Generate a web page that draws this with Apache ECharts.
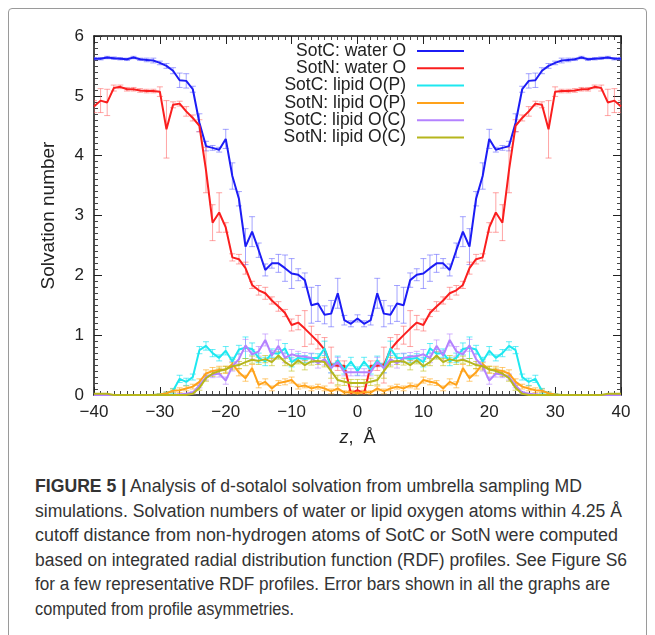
<!DOCTYPE html>
<html>
<head>
<meta charset="utf-8">
<script src="https://cdn.jsdelivr.net/npm/echarts@6/dist/echarts.min.js"></script>
<style>
  html, body { margin: 0; padding: 0; background: #fff; }
  #frame { position: absolute; left: 8px; top: 8px; width: 639px; height: 700px;
           border: 1.5px solid #9a9a9a; border-radius: 4px; box-sizing: border-box; }
  #chart { position: absolute; left: 0; top: 0; width: 655px; height: 465px; }
  #caption { position: absolute; left: 35px; top: 474px; color: #333;
             font-family: "Liberation Sans", Arial, sans-serif; font-size: 18px; line-height: 24.6px; }
  #caption div { white-space: nowrap; width: max-content; transform-origin: 0 0; }
</style>
</head>
<body>
<div id="frame"></div>
<div id="chart"></div>
<div id="caption">
  <div><b>FIGURE 5 |</b> Analysis of d-sotalol solvation from umbrella sampling MD</div>
  <div>simulations. Solvation numbers of water or lipid oxygen atoms within 4.25 Å</div>
  <div>cutoff distance from non-hydrogen atoms of SotC or SotN were computed</div>
  <div>based on integrated radial distribution function (RDF) profiles. See Figure S6</div>
  <div>for a few representative RDF profiles. Error bars shown in all the graphs are</div>
  <div>computed from profile asymmetries.</div>
</div>
<script>
// z positions (Å)
const zPos = [-40,-39,-38,-37,-36,-35,-34,-33,-32,-31,-30,-29,-28,-27,-26,-25,-24,-23,-22,-21,
  -20,-19,-18,-17,-16,-15,-14,-13,-12,-11,-10,-9,-8,-7,-6,-5,-4,-3,-2,-1,
  0,1,2,3,4,5,6,7,8,9,10,11,12,13,14,15,16,17,18,19,20,
  21,22,23,24,25,26,27,28,29,30,31,32,33,34,35,36,37,38,39,40];

// SotC: water O
const sotcWater = [5.62,5.62,5.64,5.63,5.62,5.61,5.64,5.61,5.60,5.59,5.55,5.50,5.42,5.26,5.25,5.11,4.55,4.16,4.13,4.10,4.28,3.66,3.28,2.48,2.73,2.42,2.09,2.20,2.20,2.12,2.03,2.01,1.92,1.50,1.53,1.34,1.36,1.70,1.25,1.19,
  1.28,1.19,1.25,1.70,1.36,1.34,1.53,1.50,1.92,2.01,2.03,2.12,2.20,2.20,2.09,2.42,2.73,2.48,3.28,3.66,4.28,4.10,4.13,4.16,4.55,5.11,5.25,5.26,5.42,5.50,5.55,5.59,5.60,5.61,5.64,5.61,5.62,5.63,5.64,5.62,5.62];
const sotcWaterErr = [.02,.02,.02,.02,.02,.02,.02,.02,.03,.04,.03,.04,.05,.12,.12,.05,.15,.08,.04,.04,.16,.22,.12,.30,.25,.12,.10,.08,.15,.22,.25,.10,.12,.30,.30,.15,.22,.25,.08,.05,
  .06,.05,.08,.25,.22,.15,.30,.30,.12,.10,.25,.22,.15,.08,.10,.12,.25,.30,.12,.22,.16,.04,.04,.08,.15,.05,.12,.12,.05,.04,.03,.04,.03,.02,.02,.02,.02,.02,.02,.02,.02];

// SotN: water O
const sotnWater = [4.82,4.92,4.89,5.13,5.15,5.11,5.11,5.09,5.08,5.08,5.07,4.44,4.85,4.87,4.74,4.63,4.50,3.76,2.88,3.05,2.80,2.30,2.27,2.12,1.84,1.75,1.70,1.58,1.48,1.37,1.17,1.21,1.11,1.00,0.89,0.76,0.50,0.49,0.49,0.03,
  0.08,0.03,0.49,0.49,0.50,0.76,0.89,1.00,1.11,1.21,1.17,1.37,1.48,1.58,1.70,1.75,1.84,2.12,2.27,2.30,2.80,3.05,2.88,3.76,4.50,4.63,4.74,4.87,4.85,4.44,5.07,5.08,5.08,5.09,5.11,5.11,5.15,5.13,4.89,4.92,4.82];
const sotnWaterErr = [.10,.20,.22,.05,.03,.03,.03,.03,.03,.03,.08,.48,.05,.04,.08,.05,.10,.38,.30,.33,.08,.06,.08,.10,.06,.08,.10,.06,.08,.06,.10,.12,.30,.15,.12,.20,.30,.08,.08,.04,
  .05,.04,.08,.08,.30,.20,.12,.15,.30,.12,.10,.06,.08,.06,.10,.08,.06,.10,.08,.06,.08,.33,.30,.38,.10,.05,.08,.04,.05,.48,.08,.03,.03,.03,.03,.03,.03,.05,.22,.20,.10];

// SotC: lipid O(P)
const sotcLipidP = [0,0,0,0,0,0,0,0,0,0,.01,.03,.07,.27,.22,.30,.75,.82,.70,.62,.74,.56,.76,.79,.77,.62,.56,.70,.69,.78,.55,.62,.60,.62,.62,.78,.45,.58,.42,.56,
  .40,.56,.42,.58,.45,.78,.62,.62,.60,.62,.55,.78,.69,.70,.56,.62,.77,.79,.76,.56,.74,.62,.70,.82,.75,.30,.22,.27,.07,.03,.01,0,0,0,0,0,0,0,0,0,0];
const sotcLipidPErr = [0,0,0,0,0,0,0,0,0,0,.01,.02,.04,.06,.06,.05,.06,.07,.06,.05,.07,.07,.07,.18,.10,.08,.07,.07,.07,.08,.08,.07,.06,.07,.07,.12,.08,.07,.07,.07,
  .07,.07,.07,.07,.08,.12,.07,.07,.06,.07,.08,.08,.07,.07,.07,.08,.10,.18,.07,.07,.07,.05,.06,.07,.06,.05,.06,.06,.04,.02,.01,0,0,0,0,0,0,0,0,0,0];

// SotN: lipid O(P)
const sotnLipidP = [0,0,0,0,0,0,0,0,0,0,.01,.03,.07,.08,.11,.14,.22,.36,.40,.42,.42,.52,.38,.28,.45,.17,.22,.11,.20,.22,.25,.14,.16,.11,.14,.11,.06,.11,.04,.05,
  .03,.05,.04,.11,.06,.11,.14,.11,.16,.14,.25,.22,.20,.11,.22,.17,.45,.28,.38,.52,.42,.42,.40,.36,.22,.14,.11,.08,.07,.03,.01,0,0,0,0,0,0,0,0,0,0];
const sotnLipidPErr = [0,0,0,0,0,0,0,0,0,0,.01,.02,.03,.04,.04,.04,.05,.06,.06,.06,.06,.07,.06,.05,.06,.05,.05,.04,.04,.05,.05,.04,.04,.04,.04,.04,.04,.04,.03,.03,
  .03,.03,.03,.04,.04,.04,.04,.04,.04,.04,.05,.05,.04,.04,.05,.05,.06,.05,.06,.07,.06,.06,.06,.06,.05,.04,.04,.04,.03,.02,.01,0,0,0,0,0,0,0,0,0,0];

// SotC: lipid O(C)
const sotcLipidC = [0,0,0,0,0,0,0,0,0,0,0,0,0,.01,.02,.04,.16,.30,.34,.36,.24,.48,.60,.83,.68,.73,.92,.66,.82,.62,.68,.65,.64,.62,.53,.60,.45,.55,.38,.38,
  .38,.38,.38,.55,.45,.60,.53,.62,.64,.65,.68,.62,.82,.66,.92,.73,.68,.83,.60,.48,.24,.36,.34,.30,.16,.04,.02,.01,0,0,0,0,0,0,0,0,0,0,0,0,0];
const sotcLipidCErr = [0,0,0,0,0,0,0,0,0,0,0,0,0,.01,.01,.02,.04,.05,.05,.06,.06,.08,.08,.10,.08,.08,.10,.08,.10,.08,.08,.08,.07,.08,.08,.10,.08,.08,.06,.06,
  .06,.06,.06,.08,.08,.10,.08,.08,.07,.08,.08,.08,.10,.08,.10,.08,.08,.10,.08,.08,.06,.06,.05,.05,.04,.02,.01,.01,0,0,0,0,0,0,0,0,0,0,0,0,0];

// SotN: lipid O(C)
const sotnLipidC = [.02,.02,.02,0,0,0,0,0,0,0,0,0,0,0,0,.02,.12,.28,.36,.40,.43,.48,.50,.55,.59,.57,.60,.55,.66,.55,.48,.58,.50,.56,.57,.55,.40,.25,.22,.20,
  .20,.20,.22,.25,.40,.55,.57,.56,.50,.58,.48,.55,.66,.55,.60,.57,.59,.55,.50,.48,.43,.40,.36,.28,.12,.02,0,0,0,0,0,0,0,0,0,0,0,0,.02,.02,.02];
const sotnLipidCErr = [0,0,0,0,0,0,0,0,0,0,0,0,0,0,0,.02,.04,.05,.05,.05,.05,.06,.06,.06,.06,.06,.06,.06,.06,.06,.08,.06,.08,.06,.06,.08,.12,.08,.06,.06,
  .06,.06,.06,.08,.12,.08,.06,.06,.08,.06,.08,.06,.06,.06,.06,.06,.06,.06,.06,.06,.05,.05,.05,.05,.04,.02,0,0,0,0,0,0,0,0,0,0,0,0,0,0,0];

const xTicks = [-40, -30, -20, -10, 0, 10, 20, 30, 40];
const yTicks = [0, 1, 2, 3, 4, 5, 6];

const FONT = '"Liberation Sans", Arial, Helvetica, sans-serif';

const SERIES = [
  { name: 'SotC: water O',     y: sotcWater,  err: sotcWaterErr,  color: '#1c1cf5', errColor: 'rgba(90,90,255,0.55)' },
  { name: 'SotN: water O',     y: sotnWater,  err: sotnWaterErr,  color: '#fa1e1e', errColor: 'rgba(255,90,90,0.55)' },
  { name: 'SotC: lipid O(P)',  y: sotcLipidP, err: sotcLipidPErr, color: '#1ee8f0', errColor: 'rgba(0,225,240,0.6)' },
  { name: 'SotN: lipid O(P)',  y: sotnLipidP, err: sotnLipidPErr, color: '#ffa21a', errColor: 'rgba(255,165,20,0.6)' },
  { name: 'SotC: lipid O(C)',  y: sotcLipidC, err: sotcLipidCErr, color: '#b482ff', errColor: 'rgba(180,130,255,0.6)' },
  { name: 'SotN: lipid O(C)',  y: sotnLipidC, err: sotnLipidCErr, color: '#b6b61c', errColor: 'rgba(190,190,20,0.6)' },
];

function errorBarSeries(s) {
  return {
    type: 'custom',
    name: s.name + ' err',
    silent: true,
    clip: true,
    z: 1,
    encode: { x: 0, y: [1, 2] },
    data: zPos.map((z, i) => [z, s.y[i] - s.err[i], s.y[i] + s.err[i]]).filter(d => d[2] > d[1]),
    renderItem: (params, api) => {
      const p1 = api.coord([api.value(0), api.value(1)]);
      const p2 = api.coord([api.value(0), api.value(2)]);
      const w = 3;
      const st = { stroke: s.errColor, lineWidth: 1 };
      return {
        type: 'group',
        children: [
          { type: 'line', shape: { x1: p1[0], y1: p1[1], x2: p2[0], y2: p2[1] }, style: st },
          { type: 'line', shape: { x1: p1[0] - w, y1: p1[1], x2: p1[0] + w, y2: p1[1] }, style: st },
          { type: 'line', shape: { x1: p2[0] - w, y1: p2[1], x2: p2[0] + w, y2: p2[1] }, style: st },
        ],
      };
    },
  };
}

function lineSeries(s) {
  return {
    type: 'line',
    name: s.name,
    data: zPos.map((z, i) => [z, s.y[i]]),
    showSymbol: false,
    z: 2,
    lineStyle: { color: s.color, width: 2 },
    itemStyle: { color: s.color },
  };
}

const axisBase = {
  axisLine: { show: true, onZero: false, lineStyle: { color: '#111', width: 1.5 } },
  axisTick: { show: true, inside: true, length: 8, lineStyle: { color: '#222', width: 1 } },
  minorTick: { show: true, splitNumber: 10, length: 4, lineStyle: { color: '#444', width: 1 } },
  splitLine: { show: false },
};

// legend drawn as graphic: right-aligned text + line sample
const legendX = 406, legendTop = 51, legendStep = 17.3;
const legendGraphics = [];
SERIES.forEach((s, i) => {
  const y = legendTop + i * legendStep;
  legendGraphics.push({
    type: 'text', x: legendX, y: y,
    style: { text: s.name, font: '17.5px ' + FONT, fill: '#222', align: 'right', verticalAlign: 'middle' },
  });
  legendGraphics.push({
    type: 'line', shape: { x1: 417, y1: y, x2: 464, y2: y },
    style: { stroke: s.color, lineWidth: 2 },
  });
});

const chart = echarts.init(document.getElementById('chart'), null, { renderer: 'canvas' });
chart.setOption({
  animation: false,
  backgroundColor: 'transparent',
  textStyle: { fontFamily: FONT },
  grid: { left: 94, top: 36, width: 527, height: 359 },
  xAxis: [
    Object.assign({
      type: 'value', min: xTicks[0], max: xTicks[xTicks.length - 1], interval: 10, position: 'bottom',
      name: '{i|z},  Å', nameLocation: 'middle', nameGap: 34,
      nameTextStyle: { fontSize: 18, color: '#222', fontFamily: FONT,
        rich: { i: { fontStyle: 'italic', fontSize: 18, color: '#222', fontFamily: FONT } } },
      axisLabel: { fontSize: 17, color: '#222', margin: 9, fontFamily: FONT,
        formatter: v => String(v).replace('-', '\u2212') },
    }, axisBase),
    Object.assign({
      type: 'value', min: xTicks[0], max: xTicks[xTicks.length - 1], interval: 10, position: 'top',
      axisLabel: { show: false },
    }, axisBase),
  ],
  yAxis: [
    Object.assign({
      type: 'value', min: yTicks[0], max: yTicks[yTicks.length - 1], interval: 1, position: 'left',
      name: 'Solvation number', nameLocation: 'middle', nameGap: 36, nameRotate: 90,
      nameTextStyle: { fontSize: 19, color: '#222', fontFamily: FONT },
      axisLabel: { fontSize: 17, color: '#222', margin: 10, fontFamily: FONT },
    }, axisBase),
    Object.assign({
      type: 'value', min: yTicks[0], max: yTicks[yTicks.length - 1], interval: 1, position: 'right',
      axisLabel: { show: false },
    }, axisBase),
  ],
  series: [].concat(...SERIES.map(s => [errorBarSeries(s), lineSeries(s)])),
  graphic: legendGraphics,
});

// squeeze each caption line to the condensed width it has in the original
const lineEnds = [582, 622, 618, 627, 610, 294];
document.querySelectorAll('#caption div').forEach((d, i) => {
  const k = (lineEnds[i] - 35) / d.getBoundingClientRect().width;
  d.style.transform = 'scaleX(' + k.toFixed(4) + ')';
});
</script>
</body>
</html>
